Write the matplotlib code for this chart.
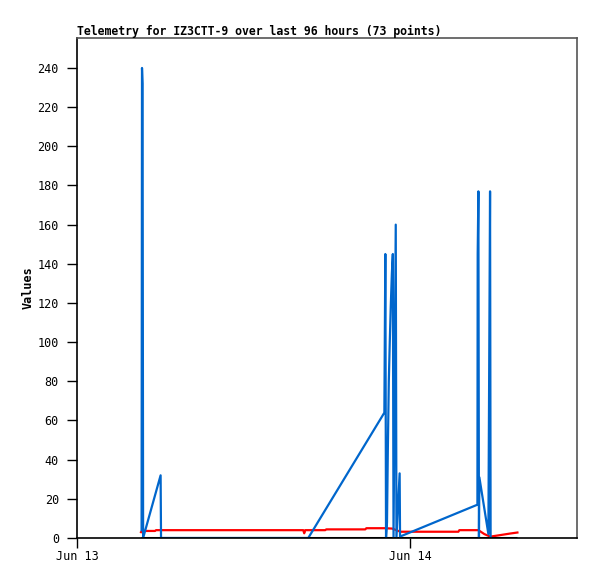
#!/usr/bin/env python3

import numpy as np
from matplotlib import pyplot as plt

# hours since Jun 13 00:00
blue_h = [4.65, 4.68, 4.72, 4.76, 6.02, 6.05, 16.65, 22.13, 22.20, 22.25,
          22.32, 22.38, 22.45, 22.52, 22.59, 22.67, 22.74, 22.79, 22.95, 23.00,
          23.23, 23.26, 23.35, 28.83, 28.85, 28.90, 28.94, 28.97, 29.62, 29.74,
          29.78]
blue_v = [4, 240, 232, 0, 32, 0, 0, 64, 145, 0,
          8, 45, 80, 100, 118, 135, 145, 0, 160, 0,
          33, 0, 1, 17, 145, 177, 0, 31, 2, 177,
          0]

red_h = [4.61, 4.68, 5.62, 5.69, 16.29, 16.36, 16.43, 17.87, 17.95, 20.76,
         20.83, 22.20, 22.70, 23.28, 27.46, 27.53, 28.90, 29.33, 29.76, 30.49,
         31.21, 31.71]
red_v = [3.0, 3.6, 3.6, 4.0, 4.0, 2.4, 4.0, 4.0, 4.4, 4.4,
         5.0, 5.0, 4.8, 3.2, 3.2, 4.0, 4.0, 2.0, 0.7, 1.5,
         2.3, 2.8]

black_h = [4.61, 31.71]
black_v = [0, 0]

xtick_pos = [0, 24]
xtick_labels = ["Jun 13", "Jun 14"]

mono = "DejaVu Sans Mono"

fig = plt.figure(figsize=(5.97, 5.79), dpi=100)
ax = fig.add_axes([77 / 597, 41 / 579, 500 / 597, 500 / 579])

ax.plot(black_h, black_v, color="black", lw=2.2, solid_capstyle="butt")
ax.plot(red_h, red_v, color="#ff0000", lw=1.6)
ax.plot(blue_h, blue_v, color="#0066cc", lw=1.6)

ax.set_xlim(0, 36)
ax.set_ylim(0, 255.3)
ax.set_yticks(np.arange(0, 241, 20))
ax.set_xticks(xtick_pos)
ax.set_xticklabels(xtick_labels)
ax.tick_params(direction="out", length=7, width=1, colors="black",
               labelsize=8.5)
ax.tick_params(axis="y", pad=6)
ax.tick_params(axis="x", pad=2)
for lab in ax.get_xticklabels() + ax.get_yticklabels():
    lab.set_family(mono)

ax.spines["left"].set_color("black")
ax.spines["bottom"].set_color("black")
ax.spines["top"].set_color("#555555")
ax.spines["right"].set_color("#555555")
for s in ax.spines.values():
    s.set_linewidth(1.2)

ax.set_ylabel("Values", family=mono, fontweight="bold", fontsize=8.5, labelpad=2)
fig.text(77 / 597, 1 - 31 / 579, "Telemetry for IZ3CTT-9 over last 96 hours (73 points)",
         family=mono, fontweight="bold", fontsize=8.3, ha="left", va="center")

plt.savefig("out.png", dpi=100)
